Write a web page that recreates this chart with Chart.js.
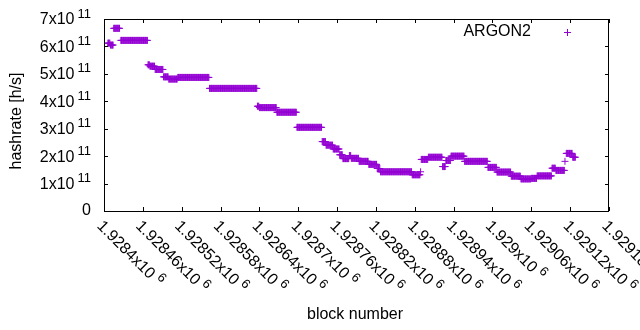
<!DOCTYPE html>
<html>
<head>
<meta charset="utf-8">
<script src="https://cdn.jsdelivr.net/npm/chart.js@4/dist/chart.umd.min.js"></script>
<style>
  html, body { margin: 0; padding: 0; background: #fff; }
</style>
</head>
<body>
<canvas id="chart" width="640" height="330"></canvas>
<script>
const firstBlock = 1928400;
const runStart = [6, 10, 15, 26, 68, 71, 79, 92, 100, 114, 163, 237, 240, 267, 298, 337, 343, 354, 364, 369, 379, 382, 394, 409, 422, 427, 476, 489, 490, 501, 523, 528, 536, 557, 593, 607, 629, 644, 660, 669, 692, 698, 712, 714, 724];
const runEnd   = [9, 14, 24, 67, 70, 78, 91, 99, 113, 162, 236, 239, 266, 297, 336, 342, 353, 363, 368, 378, 381, 393, 408, 421, 426, 475, 488, 489, 500, 522, 527, 535, 556, 592, 606, 628, 643, 659, 668, 691, 697, 711, 712, 723, 728];
const runRate  = [6.12, 6.05, 6.66, 6.22, 5.33, 5.28, 5.16, 4.89, 4.81, 4.87, 4.47, 3.82, 3.77, 3.60, 3.05, 2.53, 2.40, 2.26, 2.05, 1.91, 2.02, 1.92, 1.81, 1.70, 1.55, 1.43, 1.32, 1.43, 1.88, 1.96, 1.62, 1.84, 2.00, 1.81, 1.59, 1.42, 1.27, 1.17, 1.19, 1.28, 1.56, 1.48, 1.81, 2.10, 1.96];

const xTickMant = ["1.9284", "1.92846", "1.92852", "1.92858", "1.92864", "1.9287", "1.92876", "1.92882", "1.92888", "1.92894", "1.929", "1.92906", "1.92912", "1.92918"];
const xTickExp = "6";
const yTickMant = ["0", "1", "2", "3", "4", "5", "6", "7"];
const yTickExp = "11";

const seriesName = "ARGON2";
const purple = "#9400d3";
const FONT = "16px 'Liberation Sans', Arial, sans-serif";
const SUP = "13px 'Liberation Sans', Arial, sans-serif";

var points = [];
for (let i = 0; i < runStart.length; i++) {
  for (let b = runStart[i]; b <= runEnd[i]; b++) {
    points.push({ x: firstBlock + b, y: runRate[i] * 1e11 });
  }
}

function drawCross(ctx, x, y, r) {
  ctx.beginPath();
  ctx.moveTo(x - r, y); ctx.lineTo(x + r, y);
  ctx.moveTo(x, y - r); ctx.lineTo(x, y + r);
  ctx.stroke();
}

// gnuplot-like frame: border, inward tics, sup-script labels, titles, key
const frame = {
  id: "frame",
  afterDraw(chart) {
    const ctx = chart.ctx;
    const a = chart.chartArea;
    const xs = chart.scales.x, ys = chart.scales.y;
    ctx.save();
    ctx.strokeStyle = "#000";
    ctx.lineWidth = 1;
    ctx.strokeRect(a.left + 0.5, a.top + 0.5, a.right - a.left - 1, a.bottom - a.top);

    ctx.beginPath();
    xs.ticks.forEach(t => {
      const px = Math.round(xs.getPixelForValue(t.value)) + 0.5;
      ctx.moveTo(px, a.bottom); ctx.lineTo(px, a.bottom - 4);
      ctx.moveTo(px, a.top); ctx.lineTo(px, a.top + 4);
    });
    ys.ticks.forEach(t => {
      const py = Math.round(ys.getPixelForValue(t.value)) + 0.5;
      ctx.moveTo(a.left, py); ctx.lineTo(a.left + 4, py);
      ctx.moveTo(a.right, py); ctx.lineTo(a.right - 4, py);
    });
    ctx.stroke();

    ctx.fillStyle = "#000";
    // y tick labels
    ys.ticks.forEach((t, i) => {
      const py = ys.getPixelForValue(t.value);
      ctx.textAlign = "right";
      ctx.textBaseline = "middle";
      if (t.value === 0) {
        ctx.font = FONT;
        ctx.fillText(yTickMant[i], 91, py);
        return;
      }
      ctx.font = SUP;
      const ws = ctx.measureText(yTickExp).width;
      ctx.fillText(yTickExp, 91, py - 5);
      ctx.font = FONT;
      ctx.fillText(yTickMant[i] + "x10", 91 - ws - 3, py + 1);
    });

    // x tick labels, rotated down to the right
    xs.ticks.forEach((t, i) => {
      const px = xs.getPixelForValue(t.value);
      ctx.save();
      ctx.translate(px + 1, 218);
      ctx.rotate(Math.PI / 4);
      ctx.textAlign = "left";
      ctx.textBaseline = "top";
      ctx.font = FONT;
      const s = xTickMant[i] + "x10";
      const w = ctx.measureText(s).width;
      ctx.fillText(s, 0, 0);
      ctx.font = SUP;
      ctx.fillText(xTickExp, w + 4, -4);
      ctx.restore();
    });

    // axis titles
    ctx.font = FONT;
    ctx.textAlign = "center";
    ctx.textBaseline = "middle";
    ctx.fillText("block number", 355, 315);
    ctx.save();
    ctx.translate(17, 121);
    ctx.rotate(-Math.PI / 2);
    ctx.fillText("hashrate [h/s]", 0, 0);
    ctx.restore();

    // key
    ctx.textAlign = "right";
    ctx.fillText(seriesName, 531, 32);
    ctx.strokeStyle = purple;
    drawCross(ctx, 567.5, 32.5, 3.5);
    ctx.restore();
  }
};

new Chart(document.getElementById("chart"), {
  type: "scatter",
  data: {
    datasets: [{
      label: seriesName,
      data: points,
      pointStyle: "cross",
      pointRadius: 3.5,
      pointHoverRadius: 3.5,
      pointBorderWidth: 1,
      borderColor: purple,
      backgroundColor: purple,
    }],
  },
  options: {
    responsive: false,
    animation: false,
    devicePixelRatio: 1,
    layout: { padding: { top: 19, right: 31, left: 0, bottom: 0 } },
    plugins: { legend: { display: false }, tooltip: { enabled: false } },
    scales: {
      x: {
        type: "linear",
        min: 1928400,
        max: 1929180,
        ticks: { stepSize: 60, display: false },
        grid: { display: false },
        border: { display: false },
        afterFit: (s) => { s.height = 119; },
      },
      y: {
        min: 0,
        max: 7e11,
        ticks: { stepSize: 1e11, display: false },
        grid: { display: false },
        border: { display: false },
        afterFit: (s) => { s.width = 104; },
      },
    },
  },
  plugins: [frame],
});
</script>
</body>
</html>
